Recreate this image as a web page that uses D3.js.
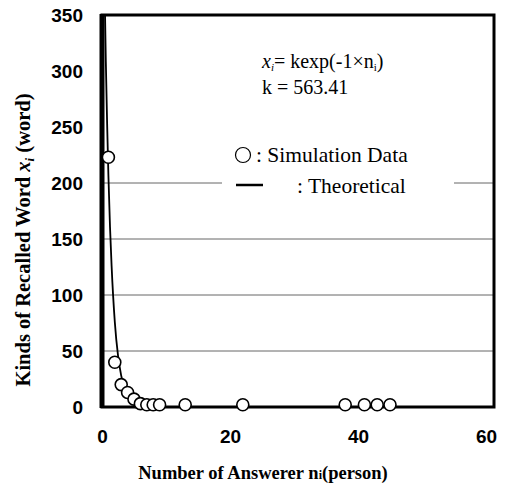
<!DOCTYPE html>
<html><head><meta charset="utf-8">
<script src="https://cdn.jsdelivr.net/npm/d3@7"></script>
<style>body{margin:0;background:#fff}</style>
</head><body>
<script>
// Simulation data
const simN = [1, 2, 3, 4, 5, 6, 7, 8, 9, 13, 22, 38, 41, 43, 45];
const simX = [223, 40, 20, 13, 7, 3, 2, 2, 2, 2, 2, 2, 2, 2, 2];
// Theoretical curve
const theoN = [0.3, 0.47, 0.6, 0.8, 1.0, 1.25, 1.5, 2, 2.5, 3, 4, 5, 6, 8, 10, 20, 40, 61.25];
const theoX = [420, 352, 308, 253, 207, 161, 126, 76, 46, 28, 10, 4, 1.4, 0.2, 0, 0, 0, 0];
const xTicks = [0, 20, 40, 60];
const yTicks = [0, 50, 100, 150, 200, 250, 300, 350];
const gridVals = [50, 100, 150, 200];

const W = 505, H = 490;
const svg = d3.select("body").append("svg").attr("width", W).attr("height", H);
const x = d3.scaleLinear().domain([0, 61.25]).range([102, 494]);
const y = d3.scaleLinear().domain([0, 350]).range([407, 15]);

svg.append("defs").append("clipPath").attr("id", "clip")
  .append("rect").attr("x", 102).attr("y", 15).attr("width", 392).attr("height", 392);

// gridlines
svg.append("g").selectAll("line").data(gridVals).join("line")
  .attr("x1", 102).attr("x2", 494)
  .attr("y1", d => y(d)).attr("y2", d => y(d))
  .attr("stroke", "#666").attr("stroke-width", 1);

// legend box (white, hides part of gridline)
svg.append("rect").attr("x", 222).attr("y", 140).attr("width", 232).attr("height", 60).attr("fill", "#fff");

// theoretical line
svg.append("path").datum(theoN.map((n, i) => [n, theoX[i]]))
  .attr("clip-path", "url(#clip)")
  .attr("d", d3.line().x(d => x(d[0])).y(d => y(d[1])).curve(d3.curveMonotoneX))
  .attr("fill", "none").attr("stroke", "#000").attr("stroke-width", 1.8);

// frame
svg.append("rect").attr("x", 102).attr("y", 15).attr("width", 392).attr("height", 392)
  .attr("fill", "none").attr("stroke", "#000").attr("stroke-width", 3);
svg.append("line").attr("x1", 102).attr("x2", 102).attr("y1", 14).attr("y2", 408)
  .attr("stroke", "#000").attr("stroke-width", 5);

// points
svg.append("g").selectAll("circle").data(simN.map((n, i) => [n, simX[i]])).join("circle")
  .attr("cx", d => x(d[0])).attr("cy", d => y(d[1])).attr("r", 6)
  .attr("fill", "#fff").attr("stroke", "#000").attr("stroke-width", 1.6);

// axes
const yAxis = d3.axisLeft(y).tickValues(yTicks).tickSize(0).tickPadding(19);
const gy = svg.append("g").attr("transform", "translate(102,0)").call(yAxis);
gy.select(".domain").remove();
gy.selectAll("text").attr("font-family", "Liberation Sans, Arial, sans-serif")
  .attr("font-weight", "bold").attr("font-size", 19).attr("fill", "#000");

const xAxis = d3.axisBottom(x).tickValues(xTicks).tickSize(0).tickPadding(23);
const gx = svg.append("g").attr("transform", "translate(0,407)").call(xAxis);
gx.select(".domain").remove();
gx.selectAll("text").attr("font-family", "Liberation Sans, Arial, sans-serif")
  .attr("font-weight", "bold").attr("font-size", 19).attr("fill", "#000");

// axis titles
const serif = "Liberation Serif, Times New Roman, serif";
const xt = svg.append("text").attr("x", 263).attr("y", 479).attr("text-anchor", "middle")
  .attr("font-family", serif).attr("font-weight", "bold").attr("font-size", 18.5);
xt.append("tspan").text("Number of Answerer n");
xt.append("tspan").attr("font-size", 12).text("i");
xt.append("tspan").text("(person)");

const yt = svg.append("text").attr("transform", "translate(30,240) rotate(-90)")
  .attr("text-anchor", "middle").attr("font-family", serif).attr("font-weight", "bold").attr("font-size", 20.5);
yt.append("tspan").text("Kinds of Recalled Word ");
yt.append("tspan").attr("font-style", "italic").text("x");
yt.append("tspan").attr("font-style", "italic").attr("font-size", 13).attr("dy", 4).text("i");
yt.append("tspan").attr("dy", -4).text(" (word)");

// formula
const f1 = svg.append("text").attr("x", 262).attr("y", 68).attr("font-family", serif).attr("font-size", 20);
f1.append("tspan").attr("font-style", "italic").text("x");
f1.append("tspan").attr("font-style", "italic").attr("font-size", 11).attr("dy", 3).text("i");
f1.append("tspan").attr("dy", -3).text("= kexp(-1×n");
f1.append("tspan").attr("font-size", 11).attr("dy", 3).text("i");
f1.append("tspan").attr("dy", -3).text(")");
svg.append("text").attr("x", 262).attr("y", 94).attr("font-family", serif).attr("font-size", 20)
  .text("k = 563.41");

// legend
svg.append("circle").attr("cx", 243).attr("cy", 155).attr("r", 7.5)
  .attr("fill", "#fff").attr("stroke", "#000").attr("stroke-width", 1.2);
svg.append("text").attr("x", 256).attr("y", 162).attr("font-family", serif).attr("font-size", 21.5)
  .text(": Simulation Data");
svg.append("line").attr("x1", 236).attr("x2", 263).attr("y1", 185).attr("y2", 185)
  .attr("stroke", "#000").attr("stroke-width", 2.5);
svg.append("text").attr("x", 297).attr("y", 193).attr("font-family", serif).attr("font-size", 21.5)
  .text(": Theoretical");
</script>
</body></html>
